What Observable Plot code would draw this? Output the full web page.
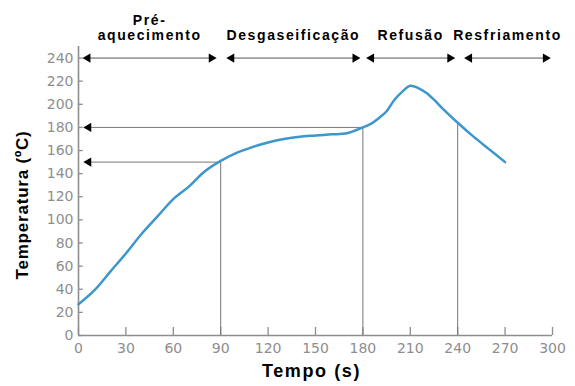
<!DOCTYPE html>
<html><head><meta charset="utf-8">
<script src="https://cdn.jsdelivr.net/npm/d3@7"></script>
<script src="https://cdn.jsdelivr.net/npm/@observablehq/plot@0.6"></script>
<style>
html,body{margin:0;padding:0;background:#fff;}
</style></head><body><div id="chart"></div>
<script>
// Temperature profile (reflow soldering)
const time =        [0, 10, 20, 30, 40, 50, 60, 70, 80, 90, 100, 110, 120, 130, 140, 150, 160, 170, 180, 185, 190, 195, 200, 205, 210, 215, 220, 225, 230, 240, 250, 260, 270];
const temperature = [27, 39, 55, 71, 88, 103, 118, 129, 142, 151, 158, 163, 167, 170, 172, 173, 174, 175, 180, 183, 188, 194, 204, 211, 216, 214, 210, 204, 197, 184, 172, 161, 150];

const phaseLabels = ["Pré-\naquecimento", "Desgaseificação", "Refusão", "Resfriamento"];
const phaseArrowStart = [4, 95, 183.5, 245.5];
const phaseArrowEnd = [86, 177, 237, 297.5];
const phaseArrowLevel = 240;

const guideLevels = [150, 180];
const guideEndTimes = [90, 180];
const guideArrowTip = 4.5;

const dropTimes = [90, 180, 240];
const dropTemps = [151, 180, 184];

const xTicks = [0, 30, 60, 90, 120, 150, 180, 210, 240, 270, 300];
const yTicks = [0, 20, 40, 60, 80, 100, 120, 140, 160, 180, 200, 220, 240];

const xLabel = "Tempo (s)";
const yLabel = "Temperatura (ºC)";

const curveData = time.map((t, i) => ({t, T: temperature[i]}));
const phases = phaseLabels.map((label, i) => ({
  label, x1: phaseArrowStart[i], x2: phaseArrowEnd[i],
  mid: (phaseArrowStart[i] + phaseArrowEnd[i]) / 2
}));
const guides = guideLevels.map((v, i) => ({v, end: guideEndTimes[i]}));
const drops = dropTimes.map((t, i) => ({t, T: dropTemps[i]}));

const axisGray = "#8e8e8e";
const lineGray = "#777";
const fontFam = "'Liberation Sans', Arial, Helvetica, sans-serif";

const plot = Plot.plot({
  width: 575, height: 386,
  marginLeft: 78, marginRight: 23, marginTop: 46, marginBottom: 51,
  style: {fontFamily: "'DejaVu Sans', Verdana, sans-serif", fontSize: "14px", color: axisGray, background: "white"},
  x: {domain: [0, 300], ticks: xTicks, tickSize: 0, tickPadding: 8, label: null},
  y: {domain: [0, 250], ticks: yTicks, tickSize: 0, tickPadding: 5, label: null},
  marks: [
    Plot.ruleY(yTicks, {x1: 0, x2: 3, stroke: axisGray, strokeWidth: 1.3}),
    Plot.ruleX(xTicks, {y1: 0, y2: 7, stroke: axisGray, strokeWidth: 1.3}),
    Plot.ruleX([0], {y1: 0, y2: 250, stroke: axisGray, strokeWidth: 1.6}),
    Plot.ruleY([0], {x1: 0, x2: 300, stroke: axisGray, strokeWidth: 1.6}),
    // horizontal guides with left arrowheads
    Plot.ruleY(guides, {y: "v", x1: guideArrowTip, x2: "end", stroke: lineGray, strokeWidth: 1}),
    Plot.dot(guides, {x: guideArrowTip, y: "v", symbol: "triangle", rotate: -90, r: 3.4, fill: "black", stroke: "none", dx: 3}),
    // vertical drop lines
    Plot.ruleX(drops, {x: "t", y1: 0, y2: "T", stroke: lineGray, strokeWidth: 1}),
    // phase double arrows
    Plot.ruleY(phases, {y: phaseArrowLevel, x1: "x1", x2: "x2", stroke: "#555", strokeWidth: 1}),
    Plot.dot(phases, {x: "x1", y: phaseArrowLevel, symbol: "triangle", rotate: -90, r: 3.4, fill: "black", stroke: "none", dx: 3}),
    Plot.dot(phases, {x: "x2", y: phaseArrowLevel, symbol: "triangle", rotate: 90, r: 3.4, fill: "black", stroke: "none", dx: -3}),
    // temperature curve
    Plot.line(curveData, {x: "t", y: "T", stroke: "#3d96cc", strokeWidth: 2.5, curve: "catmull-rom"}),
    // phase labels
    Plot.text(phases, {x: "mid", frameAnchor: "top", text: "label", lineAnchor: "bottom", dy: -7, lineHeight: 1.05,
      fill: "black", fontWeight: "bold", fontSize: 14, fontFamily: fontFam}),
    // axis titles
    Plot.text([xLabel], {frameAnchor: "bottom", dy: 41, dx: -4, fill: "black", fontWeight: "bold", fontSize: 18, fontFamily: fontFam}),
    Plot.text([yLabel], {frameAnchor: "left", textAnchor: "middle", rotate: -90, dx: -56, dy: 14, fill: "black", fontWeight: "bold", fontSize: 17, fontFamily: fontFam})
  ]
});
plot.querySelectorAll('g[aria-label="text"] text').forEach(t => {
  t.setAttribute("letter-spacing", t.textContent === yLabel ? "0.8" : "1.6");
});
document.getElementById("chart").appendChild(plot);
</script></body></html>
